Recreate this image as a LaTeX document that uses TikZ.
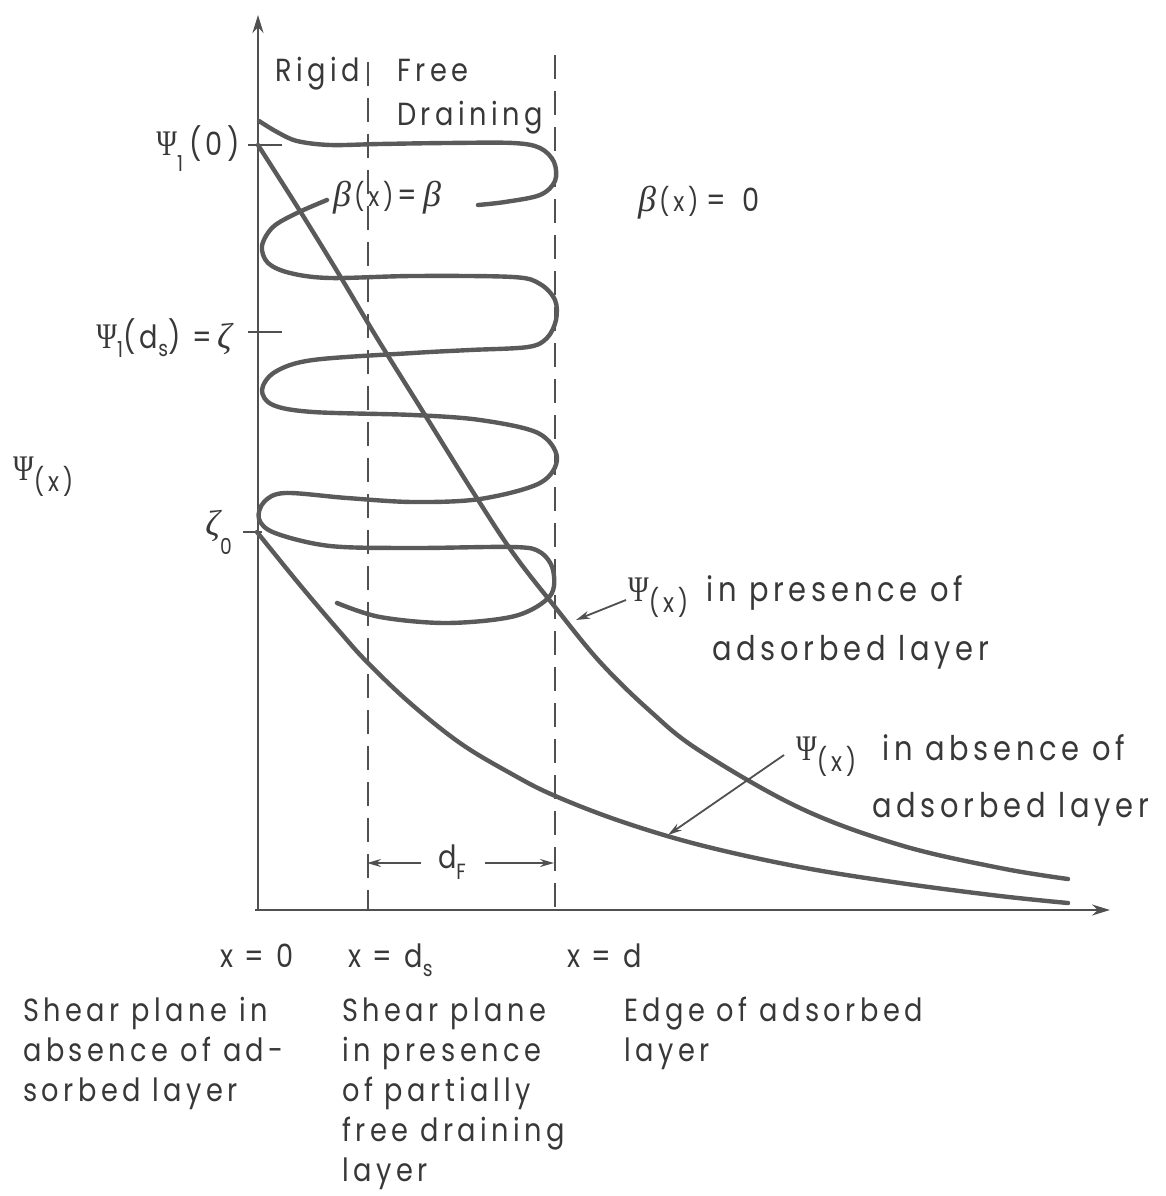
\documentclass[tikz,border=0pt]{standalone}
\usepackage{fontspec}
\setmainfont{Poppins}[FakeStretch=0.85,LetterSpace=14]
\newfontfamily\gk{Liberation Serif}
\newfontfamily\gkn{Liberation Serif}[FakeStretch=0.78]
\usetikzlibrary{arrows.meta}
\definecolor{lc}{HTML}{505050}
\definecolor{cc}{HTML}{5A5A5A}
\definecolor{tc}{HTML}{383838}
\newcommand{\lowsub}[2][0.4em]{\raisebox{-#1}{\fontsize{22}{22}\selectfont #2}}
\newcommand{\xsub}{\raisebox{-0.35em}{\fontsize{27}{27}\selectfont(x)}}
\newcommand{\Ps}{{\gkn\fontsize{36}{36}\selectfont Ψ}}
\newcommand{\bt}{{\gk\itshape\fontsize{36}{36}\selectfont β}}
\newcommand{\zt}{{\gk\itshape\fontsize{36}{36}\selectfont ζ}}
\newcommand{\bx}{{\fontsize{27}{27}\selectfont(x)}}
\begin{document}
\begin{tikzpicture}[x=1pt,y=-1pt,
  axis/.style={draw=lc,line width=2.4pt},
  crv/.style={draw=cc,line width=4.4pt,line cap=round,line join=round},
  dsh/.style={draw=lc,line width=2.2pt,dash pattern=on 24pt off 12pt},
  ann/.style={draw=lc,line width=1.8pt,-{Stealth[length=14pt,width=8pt]}},
  lbl/.style={text=tc,inner sep=0pt,font=\fontsize{32}{36}\selectfont},
  big/.style={lbl,font=\fontsize{34}{38}\selectfont},
]
\useasboundingbox (0,0) rectangle (1165,1196);

% axes
\coordinate (O) at (258,910);
\coordinate (ytop) at (258,15);
\coordinate (xstart) at (255,910);
\coordinate (xend) at (1110,910);
\draw[axis,-{Stealth[length=18pt,width=11pt]}] (O) -- (ytop);
\draw[axis,-{Stealth[length=18pt,width=11pt]}] (xstart) -- (xend);

% dashed boundaries
\coordinate (d1t) at (368,62);
\coordinate (d1b) at (368,910);
\coordinate (d2t) at (555,55);
\coordinate (d2b) at (555,910);
\draw[dsh] (d1t) -- (d1b);
\draw[dsh] (d2t) -- (d2b);

% ticks
\draw[axis] (248,145) -- (282,145);
\draw[axis] (248,332) -- (282,332);
\draw[axis] (243,532) -- (262,532);

% coil beta(x)
\draw[crv] plot[smooth,tension=0.55] coordinates {
 (259,121) (277,132) (297,141) (330,145) (380,144) (447,143) (513,143)
 (540,148) (554,162) (555,181) (540,195) (505,202) (478,205)};
\draw[crv] plot[smooth,tension=0.55] coordinates {
 (327,200) (297,213) (273,227) (262,246) (268,263) (290,273) (330,278)
 (413,276) (513,277) (540,284) (555,300) (556,320) (547,338) (528,347)
 (470,350) (413,353) (313,360) (275,372) (262,390) (273,405) (313,412)
 (413,415) (480,420) (538,433) (557,458) (540,483) (480,499) (413,502)
 (347,498) (285,493) (264,502) (259,519) (275,533) (330,546) (413,548)
 (513,547) (540,552) (553,570) (550,596) (515,616) (447,623) (380,617)
 (337,603)};

% potential curves
\draw[crv] plot[smooth,tension=0.6] coordinates {
 (258,145) (300,211) (340,276) (377,338) (420,407) (473,492) (513,553)
 (555,607) (600,662) (650,711) (700,751) (800,808) (900,845) (1000,868)
 (1068,879)};
\draw[crv] plot[smooth,tension=0.6] coordinates {
 (257,532) (300,585) (340,632) (367,662) (410,703) (460,743) (510,773)
 (553,795) (620,821) (700,845) (800,867) (900,883) (1000,896) (1068,903)};

% region labels
\node[lbl,anchor=base west] (rigid) at (275,82) {Rigid};
\node[lbl,anchor=base west] (free) at (397,82) {Free};
\node[lbl,anchor=base west] (drain) at (397,125) {Draining};
\node[lbl,anchor=base west] (bb) at (333,206) {\bt\hspace{3pt}\bx\hspace{4pt}=\hspace{6pt}\bt};
\node[lbl,anchor=base west] (b0) at (638,211) {\bt\hspace{3pt}\bx\hspace{8pt}=\hspace{16pt}0};

% axis labels
\node[lbl,anchor=base east] (psi0) at (240,155) {\Ps\lowsub[0.5em]{1}\hspace{6pt}(0)};
\node[lbl,anchor=base east] (psids) at (232,348) {\Ps\lowsub[0.3em]{1}(d\lowsub[0.25em]{s}) =\,\zt};
\node[lbl,anchor=base west] (psix) at (13,480) {\Ps\xsub};
\node[lbl,anchor=base east] (zeta0) at (232,535) {\zt\lowsub[0.6em]{0}};

% curve labels
\node[big,anchor=base west] (pres) at (628,601) {\Ps\xsub\hspace{18pt}in presence of};
\node[big,anchor=base west] (pres2) at (712,660) {adsorbed layer};
\node[big,anchor=base west] (abs) at (796,760) {\Ps\xsub\hspace{26pt}in absence of};
\node[big,anchor=base west] (abs2) at (872,817) {adsorbed layer};
\coordinate (pt1) at (576,620);
\coordinate (pt2) at (668,835);
\draw[ann] ([shift={(-2,-1)}]pres.base west) -- (pt1);
\draw[ann] ([shift={(-12,-5)}]abs.base west) -- (pt2);

% d_F
\node[lbl,anchor=base] (dF) at (452,868) {d\lowsub[0.35em]{F}};
\coordinate (dl) at (367,863);
\coordinate (dr) at (554,863);
\coordinate (dla) at (421,863);
\coordinate (dra) at (485,863);
\draw[ann] (dla) -- (dl);
\draw[ann] (dra) -- (dr);

% x positions
\node[lbl,anchor=base west] (x0) at (220,967) {x = 0};
\node[lbl,anchor=base west] (xds) at (348,967) {x = d\lowsub[0.3em]{s}};
\node[lbl,anchor=base west] (xd) at (567,967) {x = d};

\node[lbl,anchor=base west] (l1) at (23,1021) {Shear plane in};
\node[lbl,anchor=base west] (l2) at (23,1061) {absence of ad-};
\node[lbl,anchor=base west] (l3) at (23,1101) {sorbed layer};

\node[lbl,anchor=base west] (m1) at (342,1021) {Shear plane};
\node[lbl,anchor=base west] (m2) at (342,1061) {in presence};
\node[lbl,anchor=base west] (m3) at (342,1101) {of partially};
\node[lbl,anchor=base west] (m4) at (342,1141) {free draining};
\node[lbl,anchor=base west] (m5) at (342,1181) {layer};

\node[lbl,anchor=base west] (r1) at (624,1021) {Edge of adsorbed};
\node[lbl,anchor=base west] (r2) at (624,1061) {layer};
\end{tikzpicture}
\end{document}
